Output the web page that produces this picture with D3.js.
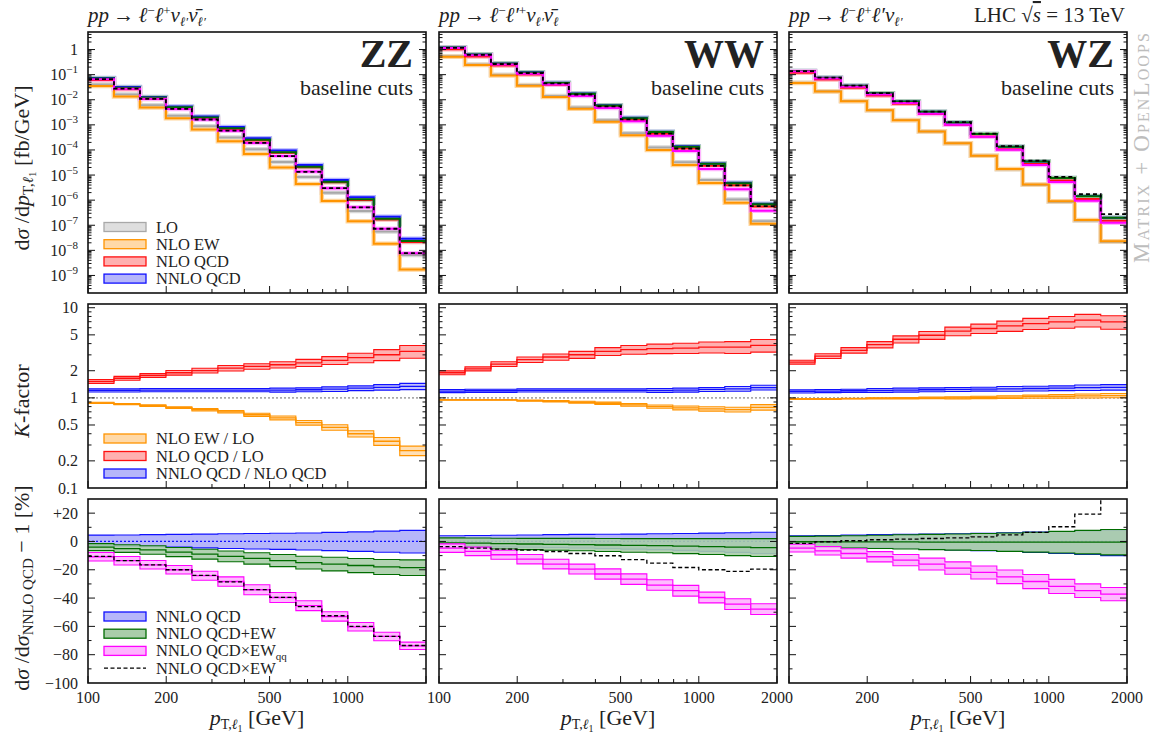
<!DOCTYPE html>
<html>
<head>
<meta charset="utf-8">
<script src="https://cdn.jsdelivr.net/npm/d3@7"></script>
<style>
body{margin:0;background:#fff}
svg text{font-family:"Liberation Serif","DejaVu Serif",serif;fill:#222}
</style>
</head>
<body>
<svg id="chart" width="1158" height="734"></svg>
<script>
var binEdges = [100, 125.9, 158.5, 199.5, 251.2, 316.2, 398.1, 501.2, 631.0, 794.3, 1000, 1258.9, 1584.9, 2000]
var processes = ["ZZ", "WW", "WZ"]

// top row: dsigma/dpT [fb/GeV], one row per process (ZZ, WW, WZ)
var sigLO = [
  [0.0403, 0.0160, 6.02e-3, 2.33e-3, 8.76e-4, 3.14e-4, 1.07e-4, 3.30e-5, 8.29e-6, 1.96e-6, 3.66e-7, 5.58e-8, 6.59e-9],
  [0.539, 0.254, 0.0983, 0.0387, 0.01398, 4.86e-3, 1.54e-3, 4.58e-4, 1.24e-4, 3.22e-5, 6.39e-6, 1.06e-6, 1.45e-7],
  [0.0476, 0.0220, 8.90e-3, 3.82e-3, 1.56e-3, 5.41e-4, 1.84e-4, 5.85e-5, 1.70e-5, 4.13e-6, 8.65e-7, 1.53e-7, 2.19e-8]
]
var sigNLOEW = [
  [0.0355, 0.0136, 4.94e-3, 1.82e-3, 6.48e-4, 2.20e-4, 6.96e-5, 1.98e-5, 4.39e-6, 9.21e-7, 1.46e-7, 1.84e-8, 1.71e-9],
  [0.512, 0.241, 0.0934, 0.0361, 0.01282, 4.34e-3, 1.34e-3, 3.82e-4, 9.92e-5, 2.49e-5, 4.82e-6, 7.85e-7, 1.14e-7],
  [0.0462, 0.0213, 8.72e-3, 3.78e-3, 1.54e-3, 5.41e-4, 1.84e-4, 5.91e-5, 1.73e-5, 4.25e-6, 9.0e-7, 1.61e-7, 2.32e-8]
]
var sigNLOQCD = [
  [0.0612, 0.0264, 0.01066, 4.43e-3, 1.76e-3, 6.72e-4, 2.38e-4, 7.70e-5, 2.03e-5, 5.12e-6, 1.02e-6, 1.68e-7, 2.16e-8],
  [1.025, 0.533, 0.233, 0.1025, 0.0397, 0.01463, 5.04e-3, 1.57e-3, 4.38e-4, 1.15e-4, 2.34e-5, 3.89e-6, 5.54e-7],
  [0.1186, 0.0639, 0.0300, 0.01488, 6.97e-3, 2.68e-3, 1.008e-3, 3.44e-4, 1.071e-4, 2.76e-5, 6.02e-6, 1.115e-6, 1.527e-7]
]
var sigNNLO = [
  [0.074, 0.032, 0.013, 5.4e-3, 2.15e-3, 8.2e-4, 2.9e-4, 9.4e-5, 2.5e-5, 6.4e-6, 1.3e-6, 2.2e-7, 2.9e-8],
  [1.22, 0.64, 0.28, 0.124, 0.048, 0.0177, 6.1e-3, 1.9e-3, 5.3e-4, 1.4e-4, 2.9e-5, 4.9e-6, 7.2e-7],
  [0.14, 0.076, 0.036, 0.018, 8.5e-3, 3.3e-3, 1.25e-3, 4.3e-4, 1.35e-4, 3.5e-5, 7.7e-6, 1.45e-6, 2.0e-7]
]
var sigQCDplusEW = [
  [0.0710, 0.0304, 0.01222, 5.00e-3, 1.96e-3, 7.34e-4, 2.55e-4, 8.13e-5, 2.13e-5, 5.38e-6, 1.08e-6, 1.80e-7, 2.36e-8],
  [1.208, 0.632, 0.276, 0.1218, 0.0470, 0.01731, 5.95e-3, 1.85e-3, 5.14e-4, 1.35e-4, 2.80e-5, 4.70e-6, 6.89e-7],
  [0.1397, 0.0758, 0.0359, 0.01795, 8.47e-3, 3.29e-3, 1.245e-3, 4.28e-4, 1.343e-4, 3.48e-5, 7.66e-6, 1.443e-6, 1.99e-7]
]
var sigQCDxEWqq = [
  [0.0660, 0.0276, 0.01086, 4.32e-3, 1.63e-3, 5.88e-4, 1.91e-4, 5.68e-5, 1.37e-5, 3.01e-6, 5.16e-7, 7.24e-8, 7.63e-9],
  [1.163, 0.595, 0.254, 0.1085, 0.0403, 0.01425, 4.70e-3, 1.39e-3, 3.67e-4, 9.13e-5, 1.75e-5, 2.73e-6, 3.76e-7],
  [0.1334, 0.0710, 0.0329, 0.01606, 7.38e-3, 2.77e-3, 1.015e-3, 3.36e-4, 1.01e-4, 2.51e-5, 5.25e-6, 9.45e-7, 1.256e-7]
]
var sigQCDxEW = [
  [0.0662, 0.0277, 0.01086, 4.32e-3, 1.63e-3, 5.86e-4, 1.91e-4, 5.69e-5, 1.35e-5, 3.04e-6, 5.2e-7, 7.26e-8, 7.69e-9],
  [1.175, 0.610, 0.265, 0.1164, 0.0446, 0.0162, 5.48e-3, 1.65e-3, 4.49e-4, 1.14e-4, 2.32e-5, 3.86e-6, 5.80e-7],
  [0.138, 0.0758, 0.0362, 0.01822, 8.64e-3, 3.37e-3, 1.283e-3, 4.44e-4, 1.41e-4, 3.72e-5, 8.5e-6, 1.73e-6, 2.8e-7]
]

// middle row: K-factors and their scale uncertainty [%]
var kEW = [
  [0.88, 0.85, 0.82, 0.78, 0.74, 0.70, 0.65, 0.60, 0.53, 0.47, 0.40, 0.33, 0.26],
  [0.95, 0.95, 0.95, 0.933, 0.917, 0.894, 0.871, 0.835, 0.80, 0.774, 0.754, 0.741, 0.786],
  [0.97, 0.97, 0.98, 0.99, 0.99, 1.0, 1.0, 1.01, 1.02, 1.03, 1.04, 1.05, 1.06]
]
var kEWunc = [
  [1.5, 1.5, 2, 2, 3, 3, 4, 5, 6, 7, 8, 10, 12],
  [1, 1, 1, 1.5, 2, 2.5, 3, 3.5, 4, 5, 5.5, 6, 7],
  [1, 1, 1, 1.5, 2, 2, 2.5, 3, 3.5, 4, 4.5, 5, 5.5]
]
var kQCD = [
  [1.52, 1.65, 1.77, 1.90, 2.01, 2.14, 2.23, 2.33, 2.45, 2.61, 2.79, 3.01, 3.28],
  [1.90, 2.10, 2.37, 2.65, 2.84, 3.01, 3.28, 3.43, 3.52, 3.57, 3.66, 3.66, 3.83],
  [2.49, 2.91, 3.37, 3.90, 4.47, 4.95, 5.49, 5.88, 6.29, 6.68, 6.96, 7.27, 6.96]
]
var kQCDunc = [
  [5, 5, 5, 6, 6, 7, 7, 8, 9, 10, 12, 14, 16],
  [5, 5, 6, 7, 8, 9, 10, 11, 12, 13, 14, 15, 16],
  [5, 6, 7, 8, 9, 10, 11, 12, 13, 14, 15, 16, 17]
]
var kNNLO = [
  [1.21, 1.21, 1.22, 1.22, 1.22, 1.22, 1.22, 1.22, 1.23, 1.25, 1.28, 1.31, 1.34],
  [1.19, 1.20, 1.20, 1.21, 1.21, 1.21, 1.21, 1.21, 1.21, 1.22, 1.24, 1.26, 1.30],
  [1.18, 1.19, 1.20, 1.21, 1.22, 1.23, 1.24, 1.25, 1.26, 1.27, 1.28, 1.30, 1.31]
]
var kNNLOunc = [
  [4, 4, 4, 4, 4, 4, 4, 5, 5, 6, 6, 7, 8],
  [4, 4, 4, 4, 4, 4, 4, 4, 5, 5, 5, 6, 6],
  [4, 4, 4, 5, 5, 5, 5, 5, 6, 6, 6, 7, 7]
]

// bottom row: dsigma/dsigma_NNLO QCD - 1 [%]
var rNNLOlo = [
  [-3, -3.3, -3.7, -4, -4.5, -5, -5.3, -5.6, -6, -6.5, -7, -7.6, -8.2],
  [-3.5, -3.6, -3.8, -4, -4.3, -4.6, -5, -5.4, -5.8, -6.3, -7, -7.7, -8.5],
  [-3.7, -4, -4.3, -4.7, -5, -5.5, -6, -6.5, -7, -7.7, -8.4, -9.2, -10]
]
var rNNLOhi = [
  [4.5, 4.6, 4.8, 5, 5.2, 5.4, 5.6, 5.8, 6, 6.4, 6.8, 7.3, 7.8],
  [4, 4.2, 4.4, 4.6, 4.8, 5, 5.1, 5.2, 5.4, 5.6, 5.9, 6.2, 6.5],
  [4, 4.2, 4.5, 4.8, 5, 5.3, 5.5, 5.8, 6.2, 6.6, 7, 7.5, 8]
]
var rQCDplusEW = [
  [-4, -5, -6, -7.5, -9, -10.5, -12, -13.5, -15, -16, -17, -18, -18.5],
  [-1, -1.2, -1.5, -1.8, -2, -2.2, -2.5, -2.8, -3, -3.3, -3.6, -4, -4.3],
  [-0.2, -0.2, -0.3, -0.3, -0.3, -0.4, -0.4, -0.4, -0.5, -0.5, -0.5, -0.5, -0.5]
]
var rQCDplusEWunc = [
  [2.5, 2.7, 3, 3.2, 3.5, 3.8, 4, 4.3, 4.5, 4.8, 5, 5.3, 5.5],
  [3.5, 3.6, 3.8, 4, 4.2, 4.4, 4.6, 4.8, 5, 5.3, 5.6, 6, 6.3],
  [3.8, 4, 4.3, 4.7, 5, 5.4, 5.7, 6, 6.5, 7, 7.6, 8.3, 9]
]
var rQCDxEWqq = [
  [-10.8, -13.6, -16.5, -20, -24.2, -28.3, -34.1, -39.6, -45.4, -53, -60.3, -67.1, -73.7],
  [-4.7, -7, -9.4, -12.5, -16, -19.5, -23, -26.6, -30.8, -34.8, -39.6, -44.3, -47.8],
  [-4.7, -6.6, -8.5, -10.8, -13.2, -16, -18.8, -21.9, -25, -28.3, -31.8, -34.8, -37.2]
]
var rQCDxEWqqUnc = [
  [3, 3, 3, 3, 3.2, 3.3, 3.5, 3.5, 3.5, 3.3, 3, 3, 2.6],
  [3, 3, 3.2, 3.3, 3.4, 3.5, 3.6, 3.7, 3.7, 3.8, 3.8, 3.8, 3.8],
  [2.7, 3, 3.3, 3.6, 4, 4.2, 4.4, 4.6, 4.8, 5, 5, 4.8, 4.7]
]
var rQCDxEW = [
  [-10.5, -13.5, -16.5, -20, -24, -28.5, -34, -39.5, -46, -52.5, -60, -67, -73.5],
  [-3.7, -4.7, -5.4, -6.1, -7.1, -8.5, -10.1, -12.9, -15.3, -18.4, -20, -21.2, -19.5],
  [-1.4, -0.2, 0.5, 1.2, 1.7, 2.1, 2.6, 3.3, 4.7, 6.4, 10.4, 19.3, 40]
]

var xMajor = [100, 200, 500, 1000, 2000]
var xMinor = [300, 400, 600, 700, 800, 900]
var xLabels = [[100, 200, 500, 1000], [100, 200, 500, 1000, 2000], [200, 500, 1000, 2000]]
var kMajor = [0.1, 0.2, 0.5, 1, 2, 5, 10]
var rMajor = [-100, -80, -60, -40, -20, 0, 20]

var svg = d3.select("#chart")
var panelX = [88, 439, 789], panelW = 338
var rows = {top: [32, 261], mid: [304, 184], bot: [499, 184]}

var yTop = d3.scaleLog().domain([2e-10, 5]).range([293, 32])
var yK = d3.scaleLog().domain([0.1, 11]).range([488, 304])
var yR = d3.scaleLinear().domain([-100, 30]).range([683, 499])

var C = {
  lo: "#a8a8a8", ew: "#ff9400", qcd: "#ff1010", nnlo: "#1010ff",
  plus: "#006c00", qq: "#ff00ff"
}
// light band fills
var F = {
  lo: "#dedede", ew: "#ffd9a8", qcd: "#ffb0b0", nnlo: "#b6b6fa",
  plus: "#a9cda9", qq: "#ffb4ff"
}

var rich = function(sel, parts, size){
  var cur = 0
  parts.forEach(function(p){
    var off = p.o || 0
    var t = sel.append("tspan").attr("dy", off - cur).style("font-size", (p.s || size) + "px").text(p.t)
    if(p.i) t.style("font-style", "italic")
    if(p.b) t.style("font-weight", "bold")
    if(p.over) t.style("text-decoration", "overline")
    cur = off
  })
  return sel
}

var stepPath = function(xs, ys, vals){
  var p = binEdges.map(function(e, i){ return [e, vals[Math.min(i, vals.length - 1)]] })
  return d3.line().x(function(d){ return xs(d[0]) }).y(function(d){ return ys(d[1]) })
    .curve(d3.curveStepAfter)(p)
}
var bandPath = function(xs, ys, lo, hi){
  var p = binEdges.map(function(e, i){ var k = Math.min(i, lo.length - 1); return [e, lo[k], hi[k]] })
  return d3.area().x(function(d){ return xs(d[0]) })
    .y0(function(d){ return ys(d[1]) }).y1(function(d){ return ys(d[2]) })
    .curve(d3.curveStepAfter)(p)
}

var drawBand = function(g, xs, ys, lo, hi, mid, col, fill, op, midDash){
  g.append("path").attr("d", bandPath(xs, ys, lo, hi)).attr("fill", fill).attr("fill-opacity", op)
  ;[lo, hi].forEach(function(v){
    g.append("path").attr("d", stepPath(xs, ys, v)).attr("fill", "none").attr("stroke", col).attr("stroke-width", 1.1)
  })
  g.append("path").attr("d", stepPath(xs, ys, mid)).attr("fill", "none").attr("stroke", col)
    .attr("stroke-width", 1.3).attr("stroke-dasharray", midDash || null)
}

var relBand = function(vals, unc, sign){
  return vals.map(function(v, i){ return v * (1 + sign * unc[i] / 100) })
}
var absBand = function(vals, unc, sign){
  return vals.map(function(v, i){ return v + sign * unc[i] })
}

var logTicks = function(dom){
  var out = []
  for(var d = -11; d <= 2; d++){
    for(var m = 1; m <= 9; m++){
      var v = m * Math.pow(10, d)
      if(v >= dom[0] * 0.999 && v <= dom[1]) out.push({v: v, major: m == 1})
    }
  }
  return out
}

var frame = function(g, xs, ys, x0, y0, h, yt){
  var x1 = x0 + panelW, yb = y0 + h
  yt.forEach(function(t){
    var L = t.major ? 7 : 3.5, y = ys(t.v)
    if(y < y0 + 0.5 || y > yb - 0.5) return
    g.append("line").attr("x1", x0).attr("x2", x0 + L).attr("y1", y).attr("y2", y).attr("stroke", "#111").attr("stroke-width", 1)
    g.append("line").attr("x1", x1).attr("x2", x1 - L).attr("y1", y).attr("y2", y).attr("stroke", "#111").attr("stroke-width", 1)
  })
  xMajor.concat(xMinor).forEach(function(v){
    var L = xMajor.indexOf(v) >= 0 ? 7 : 4
    g.append("line").attr("x1", xs(v)).attr("x2", xs(v)).attr("y1", yb).attr("y2", yb - L).attr("stroke", "#111").attr("stroke-width", 1)
  })
  g.append("rect").attr("x", x0).attr("y", y0).attr("width", panelW).attr("height", h)
    .attr("fill", "none").attr("stroke", "#111").attr("stroke-width", 1.6)
}

var topTicks = logTicks(yTop.domain())
var kTicks = logTicks(yK.domain()).map(function(t){ return {v: t.v, major: kMajor.some(function(m){ return Math.abs(m - t.v) < 1e-9 })} })
var rTicks = d3.range(-100, 31, 10).map(function(v){ return {v: v, major: rMajor.indexOf(v) >= 0} })

var defs = svg.append("defs")

processes.forEach(function(proc, pi){
  var x0 = panelX[pi]
  var xs = d3.scaleLog().domain([100, 2000]).range([x0, x0 + panelW])

  ;["top", "mid", "bot"].forEach(function(r){
    defs.append("clipPath").attr("id", "clip-" + pi + r).append("rect")
      .attr("x", x0).attr("y", rows[r][0]).attr("width", panelW).attr("height", rows[r][1])
  })

  // top row: cross sections
  var gt = svg.append("g").attr("clip-path", "url(#clip-" + pi + "top)")
  var topSeries = [
    {v: sigLO, col: C.lo, under: "#d8d8d8"},
    {v: sigNLOEW, col: C.ew, under: "#ffd59c"},
    {v: sigNLOQCD, col: C.qcd, under: "#ffb4b4"},
    {v: sigNNLO, col: C.nnlo, under: "#b4b4ff"},
    {v: sigQCDplusEW, col: C.plus, under: "#a8cca8"},
    {v: sigQCDxEWqq, col: C.qq, under: "#ffb4ff"}
  ]
  topSeries.forEach(function(s){
    gt.append("path").attr("d", stepPath(xs, yTop, s.v[pi])).attr("fill", "none")
      .attr("stroke", s.under).attr("stroke-width", 4.5)
  })
  topSeries.forEach(function(s){
    gt.append("path").attr("d", stepPath(xs, yTop, s.v[pi])).attr("fill", "none")
      .attr("stroke", s.col).attr("stroke-width", 2)
  })
  gt.append("path").attr("d", stepPath(xs, yTop, sigQCDxEW[pi])).attr("fill", "none")
    .attr("stroke", "#000").attr("stroke-width", 1.8).attr("stroke-dasharray", "4,3")
  frame(svg.append("g"), xs, yTop, x0, rows.top[0], rows.top[1], topTicks)

  svg.append("text").attr("x", x0 + panelW - 13).attr("y", 67).attr("text-anchor", "end")
    .style("font-size", "40px").style("font-weight", "bold").text(proc)
  svg.append("text").attr("x", x0 + panelW - 13).attr("y", 95).attr("text-anchor", "end")
    .style("font-size", "22px").text("baseline cuts")

  // middle row: K-factors
  var gm = svg.append("g").attr("clip-path", "url(#clip-" + pi + "mid)")
  gm.append("line").attr("x1", x0).attr("x2", x0 + panelW).attr("y1", yK(1)).attr("y2", yK(1))
    .attr("stroke", "#aaa").attr("stroke-width", 1.6).attr("stroke-dasharray", "2,2")
  drawBand(gm, xs, yK, relBand(kEW[pi], kEWunc[pi], -1), relBand(kEW[pi], kEWunc[pi], 1), kEW[pi], C.ew, F.ew, 0.85)
  drawBand(gm, xs, yK, relBand(kQCD[pi], kQCDunc[pi], -1), relBand(kQCD[pi], kQCDunc[pi], 1), kQCD[pi], C.qcd, F.qcd, 1)
  drawBand(gm, xs, yK, relBand(kNNLO[pi], kNNLOunc[pi], -1), relBand(kNNLO[pi], kNNLOunc[pi], 1), kNNLO[pi], C.nnlo, F.nnlo, 0.85)
  frame(svg.append("g"), xs, yK, x0, rows.mid[0], rows.mid[1], kTicks)

  // bottom row: ratio to NNLO QCD
  var gb = svg.append("g").attr("clip-path", "url(#clip-" + pi + "bot)")
  drawBand(gb, xs, yR, rNNLOlo[pi], rNNLOhi[pi], rNNLOlo[pi].map(function(){ return 0 }), C.nnlo, F.nnlo, 1, "2,2")
  drawBand(gb, xs, yR, absBand(rQCDplusEW[pi], rQCDplusEWunc[pi], -1), absBand(rQCDplusEW[pi], rQCDplusEWunc[pi], 1), rQCDplusEW[pi], C.plus, F.plus, 0.9)
  drawBand(gb, xs, yR, absBand(rQCDxEWqq[pi], rQCDxEWqqUnc[pi], -1), absBand(rQCDxEWqq[pi], rQCDxEWqqUnc[pi], 1), rQCDxEWqq[pi], C.qq, F.qq, 0.9)
  gb.append("path").attr("d", stepPath(xs, yR, rQCDxEW[pi])).attr("fill", "none")
    .attr("stroke", "#000").attr("stroke-width", 1.3).attr("stroke-dasharray", "4,2.5")
  frame(svg.append("g"), xs, yR, x0, rows.bot[0], rows.bot[1], rTicks)

  // x tick labels and axis title
  xLabels[pi].forEach(function(v){
    svg.append("text").attr("x", xs(v)).attr("y", 703).attr("text-anchor", "middle")
      .style("font-size", "16px").text(v)
  })
  rich(svg.append("text").attr("x", x0 + panelW / 2).attr("y", 725).attr("text-anchor", "middle"),
    [{t: "p", i: 1}, {t: "T,", o: 4, s: 14}, {t: "ℓ", i: 1, o: 4, s: 14}, {t: "1", o: 7, s: 10}, {t: " [GeV]", o: 0}], 22)
})

// y tick labels (left column only)
topTicks.filter(function(t){ return t.major && t.v <= 1 }).forEach(function(t){
  var e = Math.round(Math.log10(t.v))
  var tx = svg.append("text").attr("x", 78).attr("y", yTop(t.v) + 5.5).attr("text-anchor", "end")
  if(e == 0) rich(tx, [{t: "1"}], 16)
  else rich(tx, [{t: "10"}, {t: "−" + (-e), o: -7, s: 11}], 16)
})
kMajor.forEach(function(v){
  svg.append("text").attr("x", 78).attr("y", yK(v) + 5.5).attr("text-anchor", "end")
    .style("font-size", "16px").text(v)
})
rMajor.forEach(function(v){
  svg.append("text").attr("x", 78).attr("y", yR(v) + 5.5).attr("text-anchor", "end")
    .style("font-size", "16px").text(v > 0 ? "+" + v : v < 0 ? "−" + (-v) : "0")
})

// y axis titles
rich(svg.append("text").attr("transform", "translate(29,168) rotate(-90)").attr("text-anchor", "middle"),
  [{t: "d"}, {t: "σ", i: 1}, {t: " /d"}, {t: "p", i: 1}, {t: "T,", o: 4, s: 15}, {t: "ℓ", i: 1, o: 4, s: 15},
   {t: "1", o: 7, s: 11}, {t: " [fb/GeV]", o: 0}], 22)
rich(svg.append("text").attr("transform", "translate(29,401) rotate(-90)").attr("text-anchor", "middle"),
  [{t: "K", i: 1}, {t: "-factor"}], 22)
rich(svg.append("text").attr("transform", "translate(29,588) rotate(-90)").attr("text-anchor", "middle"),
  [{t: "d"}, {t: "σ", i: 1}, {t: " /d"}, {t: "σ", i: 1}, {t: "NNLO QCD", o: 4, s: 15}, {t: " − 1 [%]", o: 0}], 22)

// process titles
var ar = {t: "\u2009→\u2009"}
var titles = [
  [{t: "pp", i: 1}, ar, {t: "ℓ", i: 1}, {t: "−", o: -7, s: 13}, {t: "ℓ", i: 1, o: 0}, {t: "+", o: -7, s: 13},
   {t: "ν", i: 1, o: 0}, {t: "ℓ′", i: 1, o: 4, s: 13}, {t: "ν̄", i: 1, o: 0}, {t: "ℓ′", i: 1, o: 4, s: 13}],
  [{t: "pp", i: 1}, ar, {t: "ℓ", i: 1}, {t: "−", o: -7, s: 13}, {t: "ℓ′", i: 1, o: 0}, {t: "+", o: -7, s: 13},
   {t: "ν", i: 1, o: 0}, {t: "ℓ′", i: 1, o: 4, s: 13}, {t: "ν̄", i: 1, o: 0}, {t: "ℓ", i: 1, o: 4, s: 13}],
  [{t: "pp", i: 1}, ar, {t: "ℓ", i: 1}, {t: "−", o: -7, s: 13}, {t: "ℓ", i: 1, o: 0}, {t: "+", o: -7, s: 13},
   {t: "ℓ′", i: 1, o: 0}, {t: "ν", i: 1}, {t: "ℓ′", i: 1, o: 4, s: 13}]
]
titles.forEach(function(parts, pi){
  rich(svg.append("text").attr("x", panelX[pi]).attr("y", 22), parts, 21)
})
rich(svg.append("text").attr("x", 1125).attr("y", 22).attr("text-anchor", "end"),
  [{t: "LHC  "}, {t: "√"}, {t: "s", i: 1, over: 1}, {t: " = 13 TeV"}], 21)

svg.append("text").attr("transform", "translate(1149,148) rotate(-90)").attr("text-anchor", "middle")
  .style("font-size", "23px").style("font-variant", "small-caps").style("fill", "#bdbdbd")
  .attr("textLength", 230).attr("lengthAdjust", "spacing").text("Matrix + OpenLoops")

// legends
var legend = function(entries, y0, step){
  entries.forEach(function(e, i){
    var cy = y0 + i * step
    if(e.dash){
      svg.append("line").attr("x1", 104).attr("x2", 146).attr("y1", cy).attr("y2", cy)
        .attr("stroke", "#000").attr("stroke-width", 1.3).attr("stroke-dasharray", "4,2.5")
    }else{
      svg.append("rect").attr("x", 104).attr("y", cy - 4.5).attr("width", 42).attr("height", 9)
        .attr("fill", e.fill).attr("stroke", e.col).attr("stroke-width", 1.3)
    }
    rich(svg.append("text").attr("x", 156).attr("y", cy + 5.5), e.parts, 16.5)
  })
}
legend([
  {parts: [{t: "LO"}], fill: F.lo, col: C.lo},
  {parts: [{t: "NLO EW"}], fill: F.ew, col: C.ew},
  {parts: [{t: "NLO QCD"}], fill: F.qcd, col: C.qcd},
  {parts: [{t: "NNLO QCD"}], fill: F.nnlo, col: C.nnlo}
], 227, 17.2)
legend([
  {parts: [{t: "NLO EW / LO"}], fill: F.ew, col: C.ew},
  {parts: [{t: "NLO QCD / LO"}], fill: F.qcd, col: C.qcd},
  {parts: [{t: "NNLO QCD / NLO QCD"}], fill: F.nnlo, col: C.nnlo}
], 438.5, 17.5)
legend([
  {parts: [{t: "NNLO QCD"}], fill: F.nnlo, col: C.nnlo},
  {parts: [{t: "NNLO QCD+EW"}], fill: F.plus, col: C.plus},
  {parts: [{t: "NNLO QCD×EW"}, {t: "qq", o: 4, s: 11}], fill: F.qq, col: C.qq},
  {parts: [{t: "NNLO QCD×EW"}], dash: true}
], 616.5, 17.2)
</script>
</body>
</html>
